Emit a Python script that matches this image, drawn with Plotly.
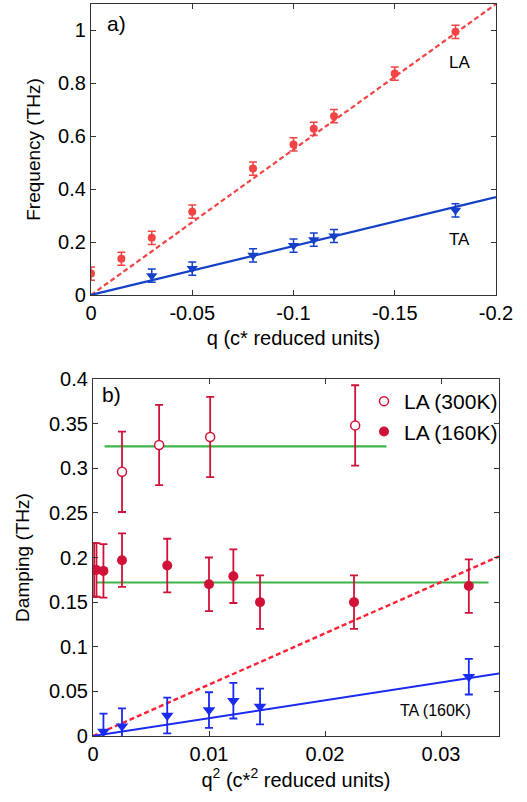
import plotly.graph_objects as go

# ---------------- data: panel a (dispersion) ----------------
q_la = [0, -0.015, -0.03, -0.05, -0.08, -0.10, -0.11, -0.12, -0.15, -0.18]
f_la = [0.081, 0.137, 0.216, 0.315, 0.478, 0.569, 0.628, 0.676, 0.837, 0.995]
f_la_err = [0.025] * 10

q_ta = [-0.03, -0.05, -0.08, -0.10, -0.11, -0.12, -0.18]
f_ta = [0.073, 0.100, 0.150, 0.187, 0.209, 0.223, 0.320]
f_ta_err = [0.025] * 7

fit_q = [0, -0.2]
slope_la_a = -5.5
slope_ta_a = -1.85

xa_ticks = [0, -0.05, -0.1, -0.15, -0.2]
xa_labels = ["0", "-0.05", "-0.1", "-0.15", "-0.2"]
ya_ticks = [0, 0.2, 0.4, 0.6, 0.8, 1.0]
ya_labels = ["0", "0.2", "0.4", "0.6", "0.8", "1"]

# ---------------- data: panel b (damping) ----------------
q2_300 = [0.0025, 0.0057, 0.0101, 0.0226]
d_300 = [0.296, 0.326, 0.335, 0.348]
d_300_err = [0.045, 0.045, 0.045, 0.045]

q2_160 = [0.0001, 0.0003, 0.0009, 0.0025, 0.0064, 0.0100, 0.0121, 0.0144, 0.0225, 0.0324]
d_160 = [0.186, 0.186, 0.185, 0.197, 0.191, 0.170, 0.179, 0.150, 0.150, 0.168]
d_160_err = [0.03] * 10

q2_ta = [0.0009, 0.0025, 0.0064, 0.0100, 0.0121, 0.0144, 0.0324]
d_ta = [0.005, 0.011, 0.023, 0.029, 0.0396, 0.033, 0.0665]
d_ta_err = [0.02] * 7

mean_300 = 0.3245
mean_300_x = [0.001, 0.0253]
mean_160 = 0.172
mean_160_x = [0.0003, 0.0341]
fit_q2 = [0, 0.035]
slope_la_b = 5.75
slope_ta_b = 2.0

xb_ticks = [0, 0.01, 0.02, 0.03]
xb_labels = ["0", "0.01", "0.02", "0.03"]
yb_ticks = [0, 0.05, 0.1, 0.15, 0.2, 0.25, 0.3, 0.35, 0.4]
yb_labels = ["0", "0.05", "0.1", "0.15", "0.2", "0.25", "0.3", "0.35", "0.4"]

# ---------------- style ----------------
W, H = 527, 802
FONT = "Liberation Sans, Arial, sans-serif"
RED_A = "#f24444"
BLUE_A = "#1541c9"
CRIMSON = "#d01238"
RED_B = "#ff2035"
BLUE_B = "#1a2af0"
GREEN = "#3cb449"


def px_dom_x(a, b):
    return [a / W, b / W]


def px_dom_y(top, bottom):
    return [1 - bottom / H, 1 - top / H]


fig = go.Figure()

# panel a
fig.add_trace(go.Scatter(x=fit_q, y=[slope_la_a * v for v in fit_q], mode="lines",
                         line=dict(color=RED_A, width=2.2, dash="5px,3px"),
                         xaxis="x", yaxis="y", showlegend=False, hoverinfo="skip"))
fig.add_trace(go.Scatter(x=fit_q, y=[slope_ta_a * v for v in fit_q], mode="lines",
                         line=dict(color=BLUE_A, width=2.2),
                         xaxis="x", yaxis="y", showlegend=False, hoverinfo="skip"))
fig.add_trace(go.Scatter(x=q_la, y=f_la, mode="markers",
                         marker=dict(color=RED_A, size=8, symbol="circle"),
                         error_y=dict(type="data", array=f_la_err, color=RED_A, thickness=1.5, width=4),
                         xaxis="x", yaxis="y", showlegend=False))
fig.add_trace(go.Scatter(x=q_ta, y=f_ta, mode="markers",
                         marker=dict(color=BLUE_A, size=10, symbol="triangle-down"),
                         error_y=dict(type="data", array=f_ta_err, color=BLUE_A, thickness=1.5, width=4),
                         xaxis="x", yaxis="y", showlegend=False))

# panel b
fig.add_trace(go.Scatter(x=mean_300_x, y=[mean_300] * 2, mode="lines",
                         line=dict(color=GREEN, width=2.2),
                         xaxis="x2", yaxis="y2", showlegend=False, hoverinfo="skip"))
fig.add_trace(go.Scatter(x=mean_160_x, y=[mean_160] * 2, mode="lines",
                         line=dict(color=GREEN, width=2.2),
                         xaxis="x2", yaxis="y2", showlegend=False, hoverinfo="skip"))
fig.add_trace(go.Scatter(x=fit_q2, y=[slope_la_b * v for v in fit_q2], mode="lines",
                         line=dict(color=RED_B, width=2.4, dash="5px,3px"),
                         xaxis="x2", yaxis="y2", showlegend=False, hoverinfo="skip"))
fig.add_trace(go.Scatter(x=fit_q2, y=[slope_ta_b * v for v in fit_q2], mode="lines",
                         line=dict(color=BLUE_B, width=2),
                         xaxis="x2", yaxis="y2", showlegend=False, hoverinfo="skip"))
fig.add_trace(go.Scatter(x=q2_300, y=d_300, mode="markers", name="LA (300K)",
                         marker=dict(color="white", size=9, symbol="circle",
                                     line=dict(color=CRIMSON, width=1.5)),
                         error_y=dict(type="data", array=d_300_err, color=CRIMSON, thickness=1.8, width=4),
                         xaxis="x2", yaxis="y2"))
fig.add_trace(go.Scatter(x=q2_160, y=d_160, mode="markers", name="LA (160K)",
                         marker=dict(color=CRIMSON, size=10, symbol="circle"),
                         error_y=dict(type="data", array=d_160_err, color=CRIMSON, thickness=1.8, width=4),
                         xaxis="x2", yaxis="y2"))
fig.add_trace(go.Scatter(x=q2_ta, y=d_ta, mode="markers",
                         marker=dict(color=BLUE_B, size=11, symbol="triangle-down"),
                         error_y=dict(type="data", array=d_ta_err, color=BLUE_B, thickness=1.8, width=4),
                         xaxis="x2", yaxis="y2", showlegend=False))

axis_common = dict(showline=True, linecolor="#333333", linewidth=1.2, mirror="ticks",
                   ticks="inside", ticklen=5, tickcolor="#333333", tickwidth=1,
                   showgrid=False, zeroline=False, automargin=False,
                   tickfont=dict(family=FONT, size=20, color="black"))

fig.update_layout(
    width=W, height=H,
    margin=dict(l=0, r=0, t=0, b=0, autoexpand=False),
    paper_bgcolor="white", plot_bgcolor="white",
    font=dict(family=FONT, color="black"),
    xaxis=dict(axis_common, domain=px_dom_x(91, 496), anchor="y", range=[0, -0.2],
               tickvals=xa_ticks, ticktext=xa_labels,
               title=dict(text="q (c* reduced units)", standoff=7,
                          font=dict(family=FONT, size=20, color="black"))),
    yaxis=dict(axis_common, domain=px_dom_y(4, 295), anchor="x", range=[0, 1.1],
               tickvals=ya_ticks, ticktext=ya_labels,
               title=dict(text="Frequency (THz)", standoff=12,
                          font=dict(family=FONT, size=19, color="black"))),
    xaxis2=dict(axis_common, domain=px_dom_x(93, 499), anchor="y2", range=[0, 0.035],
                tickvals=xb_ticks, ticktext=xb_labels,
                title=dict(text="q<sup>2</sup> (c*<sup>2</sup> reduced units)", standoff=8,
                           font=dict(family=FONT, size=20, color="black"))),
    yaxis2=dict(axis_common, domain=px_dom_y(379, 736), anchor="x2", range=[0, 0.4],
                tickvals=yb_ticks, ticktext=yb_labels,
                title=dict(text="Damping (THz)", standoff=14,
                           font=dict(family=FONT, size=19, color="black"))),
    legend=dict(x=503 / W, y=1 - 381 / H, xanchor="right", yanchor="top",
                bgcolor="rgba(0,0,0,0)", borderwidth=0,
                font=dict(family=FONT, size=21, color="black"),
                itemsizing="trace", tracegroupgap=0, itemwidth=30),
    annotations=[
        dict(text="a)", x=105 / W, y=1 - 10 / H, xref="paper", yref="paper",
             xanchor="left", yanchor="top", showarrow=False,
             font=dict(family=FONT, size=21, color="black")),
        dict(text="b)", x=100 / W, y=1 - 381 / H, xref="paper", yref="paper",
             xanchor="left", yanchor="top", showarrow=False,
             font=dict(family=FONT, size=21, color="black")),
        dict(text="LA", x=-0.182, y=0.88, xref="x", yref="y", showarrow=False,
             font=dict(family=FONT, size=17, color="black")),
        dict(text="TA", x=-0.182, y=0.21, xref="x", yref="y", showarrow=False,
             font=dict(family=FONT, size=17, color="black")),
        dict(text="TA (160K)", x=0.0295, y=0.029, xref="x2", yref="y2", showarrow=False,
             font=dict(family=FONT, size=16, color="black")),
    ],
)

fig.write_html("out.html", config={"displayModeBar": False},
               post_script="document.body.style.margin='0';")
